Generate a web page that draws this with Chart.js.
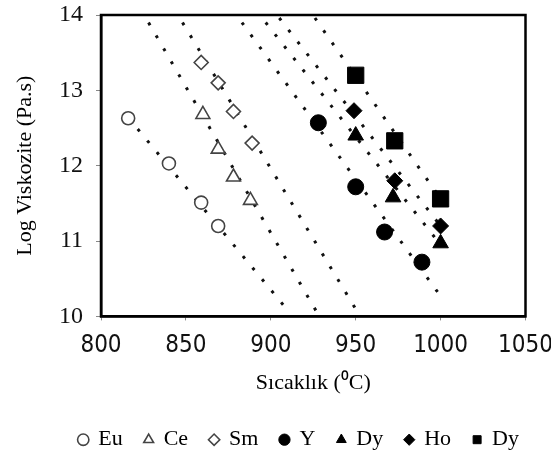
<!DOCTYPE html>
<html>
<head>
<meta charset="utf-8">
<script src="https://cdn.jsdelivr.net/npm/chart.js@4"></script>
<style>
  html, body { margin: 0; padding: 0; background: #fff; }
</style>
</head>
<body>
<canvas id="chart" width="551" height="470"></canvas>
<script>
// measured points, temperature (C) vs log viscosity (Pa.s)
const euTemp = [816, 840, 859, 869];
const euVisc = [12.63, 12.03, 11.51, 11.2];
const ceTemp = [860, 869, 878, 888];
const ceVisc = [12.68, 12.22, 11.85, 11.54];
const smTemp = [859, 869, 878, 889];
const smVisc = [13.37, 13.1, 12.72, 12.3];
const yTemp = [928, 950, 967, 989];
const yVisc = [12.57, 11.72, 11.12, 10.72];
const dyTemp = [950, 972, 1000];
const dyVisc = [12.4, 11.58, 10.97];
const hoTemp = [949, 973, 1000];
const hoVisc = [12.73, 11.8, 11.2];
const dy2Temp = [950, 973, 1000];
const dy2Visc = [13.2, 12.33, 11.56];

// dotted fit lines, [start, end] for each series
const fitTemp = [[816, 910], [828, 926.5], [848, 950.5], [883, 999], [897, 1000], [905, 1000], [926, 1000]];
const fitVisc = [[12.64, 10.08], [13.9, 10.08], [13.9, 10.08], [13.9, 10.3], [13.9, 10.95], [13.96, 11.2], [13.96, 11.56]];

const names = ['Eu', 'Ce', 'Sm', 'Y', 'Dy', 'Ho', 'Dy'];
const xTicks = [800, 850, 900, 950, 1000, 1050];
const yTicks = [10, 11, 12, 13, 14];

const temps = [euTemp, ceTemp, smTemp, yTemp, dyTemp, hoTemp, dy2Temp];
const viscs = [euVisc, ceVisc, smVisc, yVisc, dyVisc, hoVisc, dy2Visc];
const styles = ['circle', 'triangle', 'rectRot', 'circle', 'triangle', 'rectRot', 'rect'];
const radii = [6.5, 8, 7, 8, 9, 8, 11.5];
const hollow = [true, true, true, false, false, false, false];

function pts(xs, ys) {
  return xs.map((x, i) => ({ x: x, y: ys[i] }));
}

const datasets = [];
for (let i = 0; i < names.length; i++) {
  datasets.push({
    type: 'line',
    label: '_fit' + i,
    data: pts(fitTemp[i], fitVisc[i]),
    borderColor: '#111',
    borderWidth: 3,
    borderDash: [3, 12],
    pointRadius: 0,
    fill: false,
    order: 2
  });
}
for (let i = 0; i < names.length; i++) {
  datasets.push({
    type: 'scatter',
    label: names[i],
    data: pts(temps[i], viscs[i]),
    pointStyle: styles[i],
    pointRadius: radii[i],
    pointHoverRadius: radii[i],
    backgroundColor: hollow[i] ? '#fff' : '#000',
    borderColor: hollow[i] ? '#444' : '#000',
    pointBorderWidth: hollow[i] ? 1.6 : 1,
    order: 1
  });
}

const framePlugin = {
  id: 'frame',
  beforeDatasetsDraw(chart) {
    const a = chart.chartArea;
    const ctx = chart.ctx;
    ctx.save();
    ctx.strokeStyle = '#000';
    ctx.lineWidth = 2.5;
    ctx.strokeRect(a.left, a.top, a.right - a.left, a.bottom - a.top);
    ctx.restore();
  }
};

const serif = 'Liberation Serif, Times New Roman, serif';

new Chart(document.getElementById('chart'), {
  type: 'scatter',
  data: { datasets: datasets },
  options: {
    responsive: false,
    animation: false,
    layout: { padding: { top: 15, right: 10, bottom: 9.3, left: 0 } },
    scales: {
      x: {
        type: 'linear',
        min: 800,
        max: 1050,
        afterBuildTicks: (s) => { s.ticks = xTicks.map(v => ({ value: v })); },
        afterFit: (s) => { s.height = 90.3; s.paddingLeft = 0; s.paddingRight = 0; },
        grid: { drawOnChartArea: false, tickLength: 4, color: '#888' },
        border: { display: true, color: '#000', width: 2.5 },
        ticks: {
          color: '#111',
          padding: 11,
          callback: (v) => String(v),
          font: { family: 'Liberation Sans Narrow, DejaVu Sans Condensed, sans-serif', size: 24 }
        },
        title: {
          display: true,
          text: 'Sıcaklık (⁰C)',
          color: '#000',
          font: { family: serif, size: 22 },
          padding: { top: 0, bottom: 9.8 }
        }
      },
      y: {
        type: 'linear',
        min: 10,
        max: 14,
        afterBuildTicks: (s) => { s.ticks = yTicks.map(v => ({ value: v })); },
        afterFit: (s) => { s.width = 101; s.paddingTop = 0; s.paddingBottom = 0; },
        grid: { drawOnChartArea: false, tickLength: 5, color: '#888' },
        border: { display: true, color: '#000', width: 2.5 },
        ticks: {
          color: '#111',
          padding: 13,
          font: { family: serif, size: 24 }
        },
        title: {
          display: true,
          text: 'Log Viskozite (Pa.s)',
          color: '#000',
          font: { family: serif, size: 22 },
          padding: { top: 12, bottom: 0 }
        }
      },
      // empty right-hand strip so the legend can run past the plot edge
      yRight: {
        type: 'linear',
        position: 'right',
        grid: { display: false },
        border: { display: false },
        ticks: { display: false },
        afterFit: (s) => { s.width = 15.5; s.paddingTop = 0; s.paddingBottom = 0; }
      }
    },
    plugins: {
      legend: {
        position: 'bottom',
        align: 'end',
        labels: {
          usePointStyle: true,
          boxWidth: 8,
          boxHeight: 8,
          padding: 22,
          color: '#000',
          font: { family: serif, size: 22 },
          filter: (item) => !item.text.startsWith('_fit')
        }
      },
      tooltip: { enabled: false }
    }
  },
  plugins: [framePlugin]
});
</script>
</body>
</html>
